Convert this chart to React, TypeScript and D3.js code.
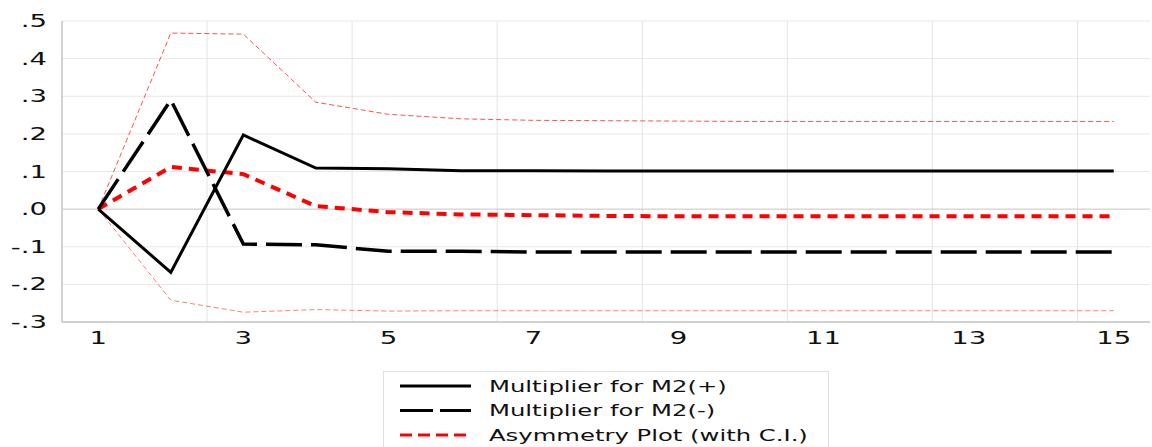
import React from "react";
import * as d3 from "d3";

const periods = [1, 2, 3, 4, 5, 6, 7, 8, 9, 10, 11, 12, 13, 14, 15];
const m2Pos = [0, -0.168, 0.197, 0.109, 0.107, 0.102, 0.102, 0.101, 0.101, 0.101, 0.101, 0.101, 0.101, 0.101, 0.101];
const m2Neg = [0, 0.29, -0.093, -0.095, -0.112, -0.112, -0.114, -0.114, -0.114, -0.114, -0.114, -0.114, -0.114, -0.114, -0.114];
const asym = [0, 0.112, 0.093, 0.008, -0.008, -0.014, -0.016, -0.018, -0.019, -0.019, -0.019, -0.019, -0.019, -0.019, -0.019];
const upperCI = [0, 0.468, 0.465, 0.284, 0.252, 0.24, 0.236, 0.235, 0.234, 0.233, 0.233, 0.233, 0.233, 0.233, 0.233];
const lowerCI = [0, -0.242, -0.274, -0.267, -0.271, -0.27, -0.27, -0.27, -0.27, -0.27, -0.27, -0.27, -0.27, -0.27, -0.27];
const yTicks = [-0.3, -0.2, -0.1, 0, 0.1, 0.2, 0.3, 0.4, 0.5];
const yTickLabels = ["-.3", "-.2", "-.1", ".0", ".1", ".2", ".3", ".4", ".5"];
const xLabelPeriods = [1, 3, 5, 7, 9, 11, 13, 15];
const legendLabels = ["Multiplier for M2(+)", "Multiplier for M2(-)", "Asymmetry Plot (with C.I.)"];

export default function App() {
  const W = 1152, H = 447;
  const left = 62, right = 1150, top = 21, bottom = 322;
  const x = d3.scaleBand<number>().domain(periods).range([left, right]);
  const cx = (p: number) => (x(p) as number) + x.bandwidth() / 2;
  const y = d3.scaleLinear().domain([-0.3, 0.5]).range([bottom, top]);
  const line = (vals: number[]) =>
    d3.line<number>().x((_, i) => cx(periods[i])).y((v) => y(v))(vals) as string;
  const font = "'DejaVu Sans', Verdana, sans-serif";
  const gridX = periods.filter((p) => p % 2 === 0 && p < 15).map((p) => (x(p) as number) + x.bandwidth());
  const SX = 1.62;

  const T = (props: { x: number; y: number; anchor: string; size: number; children: React.ReactNode }) => (
    <g transform={`translate(${props.x},${props.y}) scale(${SX},1)`}>
      <text x={0} y={0} textAnchor={props.anchor} fontFamily={font} fontSize={props.size} fill="#111">
        {props.children}
      </text>
    </g>
  );

  return (
    <svg width={W} height={H} style={{ position: "absolute", left: 0, top: 0 }}>
      <rect x={0} y={0} width={W} height={H} fill="#fff" />
      {yTicks.map((t) =>
        t === 0 ? null : (
          <line key={t} x1={left} x2={right} y1={y(t)} y2={y(t)} stroke="#e8e8e8" strokeWidth={1} />
        )
      )}
      {gridX.map((gx) => (
        <line key={gx} x1={gx} x2={gx} y1={top} y2={bottom} stroke="#e4e4e4" strokeWidth={1} />
      ))}
      <line x1={left} x2={right} y1={y(0)} y2={y(0)} stroke="#c4c4c4" strokeWidth={1} />
      <line x1={left} x2={left} y1={top} y2={bottom} stroke="#c4c4c4" strokeWidth={1.5} />
      <line x1={left} x2={right} y1={bottom} y2={bottom} stroke="#c4c4c4" strokeWidth={1.5} />
      {yTicks.map((t, i) => (
        <T key={t} x={47} y={y(t) + 6} anchor="end" size={17}>
          {yTickLabels[i]}
        </T>
      ))}
      {xLabelPeriods.map((p) => (
        <T key={p} x={cx(p)} y={344} anchor="middle" size={17}>
          {p}
        </T>
      ))}
      <path d={line(upperCI)} fill="none" stroke="#ff3030" strokeWidth={1} strokeDasharray="5,3" opacity={0.85} />
      <path d={line(lowerCI)} fill="none" stroke="#ff5050" strokeWidth={1} strokeDasharray="5,3" opacity={0.75} />
      <path d={line(asym)} fill="none" stroke="#ff0000" strokeWidth={4} strokeDasharray="10,7" />
      <path d={line(m2Neg)} fill="none" stroke="#000" strokeWidth={3.5} strokeDasharray="36,9" />
      <path d={line(m2Pos)} fill="none" stroke="#000" strokeWidth={3} />
      <rect x={383.5} y={371.5} width={445} height={90} fill="#fff" stroke="#e0e0e0" strokeWidth={1} />
      {legendLabels.map((lab, i) => {
        const ly = 386 + i * 24.5;
        const stroke = i === 2 ? "#ff0000" : "#000";
        const dash = i === 0 ? undefined : i === 1 ? "33,7" : "12,6";
        return (
          <g key={lab}>
            <line x1={400} x2={471} y1={ly} y2={ly} stroke={stroke} strokeWidth={3} strokeDasharray={dash} />
            <T x={489} y={ly + 5.5} anchor="start" size={15}>
              {lab}
            </T>
          </g>
        );
      })}
    </svg>
  );
}
